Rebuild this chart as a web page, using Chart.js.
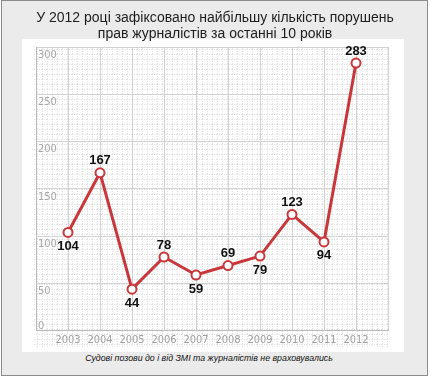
<!DOCTYPE html>
<html>
<head>
<meta charset="utf-8">
<script src="https://cdn.jsdelivr.net/npm/chart.js@4"></script>
<style>
  html, body { margin: 0; padding: 0; background: #ffffff; }
  #frame { position: absolute; left: 1px; top: 0px; width: 425px; height: 374px; border: 1px solid #8c8c8c; background: #ebebeb; }
  #title { position: absolute; z-index: 2; left: 0; top: 9px; width: 430px; text-align: center; font-family: "Liberation Sans", Arial, sans-serif; font-size: 14px; line-height: 16px; color: #1e1e1e; }
  #panel { position: absolute; z-index: 1; left: 22px; top: 39px; width: 382px; height: 313px; background: #ffffff; }
  #panel canvas { position: absolute; left: 0; top: 0; }
  #note { position: absolute; left: 0; top: 353px; width: 418px; text-align: center; font-family: "Liberation Sans", Arial, sans-serif; font-style: italic; font-size: 8.8px; line-height: 11px; color: #111; }
</style>
</head>
<body>
<div id="frame"></div>
<div id="title">У 2012 році зафіксовано найбільшу кількість порушень<br>прав журналістів за останні 10 років</div>
<div id="panel"><canvas id="c" width="382" height="313"></canvas></div>
<div id="note">Судові позови до і від ЗМІ та журналістів не враховувались</div>
<script>
const years = [2003, 2004, 2005, 2006, 2007, 2008, 2009, 2010, 2011, 2012];
const values = [104, 167, 44, 78, 59, 69, 79, 123, 94, 283];
const labelPos = ['below', 'above', 'below', 'above', 'below', 'above', 'below', 'above', 'below', 'above'];
const yTicks = [0, 50, 100, 150, 200, 250, 300];

const points = years.map((y, i) => ({ x: y, y: values[i] }));

function makePattern(ctx) {
  const c = document.createElement('canvas');
  c.width = 5; c.height = 5;
  const g = c.getContext('2d');
  g.fillStyle = '#ffffff';
  g.fillRect(0, 0, 5, 5);
  g.fillStyle = '#e4e4e4';
  g.fillRect(0, 0, 1, 1);
  g.fillRect(2, 0, 1, 1);
  g.fillRect(4, 0, 1, 1);
  g.fillRect(0, 2, 1, 1);
  g.fillRect(0, 4, 1, 1);
  return ctx.createPattern(c, 'repeat');
}

const bgPlugin = {
  id: 'bg',
  beforeDraw(chart) {
    const { ctx, chartArea } = chart;
    ctx.save();
    ctx.fillStyle = makePattern(ctx);
    ctx.fillRect(chartArea.left - 3, chartArea.top, chartArea.right - chartArea.left + 3, chart.height - chartArea.top - 5);
    ctx.restore();
  }
};

const yLabelPlugin = {
  id: 'ylabels',
  afterDraw(chart) {
    const { ctx, chartArea } = chart;
    const s = chart.scales.y;
    ctx.save();
    ctx.font = '11px "Liberation Sans Narrow", "DejaVu Sans Condensed", sans-serif';
    ctx.fillStyle = '#a8a8a8';
    ctx.textAlign = 'left';
    ctx.textBaseline = 'middle';
    yTicks.forEach(v => {
      let py = s.getPixelForValue(v) + 8;
      if (py > chartArea.bottom - 4) py = s.getPixelForValue(v) - 5;
      ctx.fillText(String(v), chartArea.left + 2, py);
    });
    ctx.restore();
  }
};

const valueLabelPlugin = {
  id: 'vlabels',
  afterDatasetsDraw(chart) {
    const { ctx } = chart;
    const meta = chart.getDatasetMeta(0);
    ctx.save();
    ctx.font = 'bold 13px "Liberation Sans", Arial, sans-serif';
    ctx.fillStyle = '#111111';
    ctx.textAlign = 'center';
    ctx.textBaseline = 'middle';
    meta.data.forEach((pt, i) => {
      const dy = labelPos[i] === 'above' ? -12 : 14;
      ctx.fillText(String(values[i]), pt.x, pt.y + dy);
    });
    ctx.restore();
  }
};

new Chart(document.getElementById('c'), {
  type: 'line',
  data: {
    datasets: [{
      data: points,
      borderColor: '#c9373a',
      borderWidth: 3,
      pointRadius: 4.5,
      pointHoverRadius: 4.5,
      pointBackgroundColor: '#ffffff',
      pointBorderColor: '#c9373a',
      pointBorderWidth: 2,
      tension: 0,
      fill: false
    }]
  },
  options: {
    responsive: false,
    animation: false,
    events: [],
    layout: { padding: { left: 14, right: 16, top: 8, bottom: 2 } },
    plugins: { legend: { display: false }, tooltip: { enabled: false }, title: { display: false } },
    scales: {
      x: {
        type: 'linear',
        min: 2002,
        max: 2013,
        ticks: {
          stepSize: 1,
          padding: 3,
          color: '#a0a0a0',
          font: { family: '"Liberation Sans Narrow", "DejaVu Sans Condensed", sans-serif', size: 11 },
          callback: v => (v === 2002 || v === 2013) ? '' : String(v),
          maxRotation: 0,
          autoSkip: false
        },
        grid: { color: '#d2d2d2', drawTicks: false },
        border: { color: '#bcbcbc' }
      },
      y: {
        min: 0,
        max: 300,
        ticks: { stepSize: 50, display: false },
        grid: { color: '#d2d2d2', drawTicks: false },
        border: { color: '#bcbcbc' }
      }
    }
  },
  plugins: [bgPlugin, yLabelPlugin, valueLabelPlugin]
});
</script>
</body>
</html>
